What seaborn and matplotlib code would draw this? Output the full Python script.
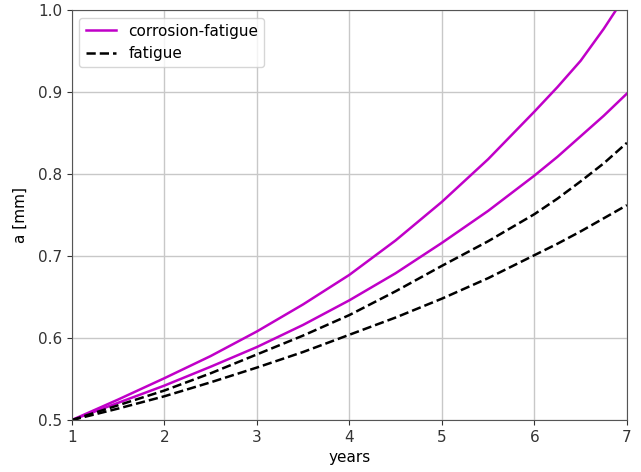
import matplotlib
matplotlib.use("Agg")
import matplotlib.pyplot as plt
import seaborn as sns
import numpy as np
import pandas as pd

years = [1.0, 1.5, 2.0, 2.5, 3.0, 3.5, 4.0, 4.5, 5.0, 5.5, 6.0, 6.25, 6.5, 6.75, 7.0]
cf_upper = [0.500, 0.525, 0.551, 0.578, 0.608, 0.641, 0.677, 0.719, 0.766, 0.818, 0.876, 0.906, 0.938, 0.977, 1.020]
cf_lower = [0.500, 0.521, 0.542, 0.565, 0.589, 0.616, 0.646, 0.679, 0.716, 0.755, 0.798, 0.821, 0.846, 0.871, 0.898]
f_upper = [0.500, 0.518, 0.536, 0.557, 0.580, 0.603, 0.628, 0.657, 0.688, 0.718, 0.751, 0.770, 0.791, 0.813, 0.838]
f_lower = [0.500, 0.514, 0.529, 0.546, 0.564, 0.583, 0.604, 0.625, 0.648, 0.673, 0.701, 0.715, 0.730, 0.746, 0.762]

x_ticks = [1, 2, 3, 4, 5, 6, 7]
y_ticks = [0.5, 0.6, 0.7, 0.8, 0.9, 1.0]

plt.rcParams["font.size"] = 11
fig, ax = plt.subplots(figsize=(6.41, 4.72), dpi=100)
fig.subplots_adjust(left=0.112, right=0.978, top=0.979, bottom=0.110)

series = [
    (cf_upper, "#c000c8", "-", "corrosion-fatigue"),
    (cf_lower, "#c000c8", "-", None),
    (f_upper, "black", "--", "fatigue"),
    (f_lower, "black", "--", None),
]
for vals, col, ls, lab in series:
    df = pd.DataFrame({"years": years, "a": vals})
    sns.lineplot(data=df, x="years", y="a", ax=ax, color=col, linestyle=ls,
                 label=lab, linewidth=1.8)

ax.set_xlim(1, 7)
ax.set_ylim(0.5, 1.0)
ax.set_xticks(x_ticks)
ax.set_yticks(y_ticks)
ax.set_xlabel("years", fontsize=11)
ax.set_ylabel("a [mm]", fontsize=11, labelpad=7)
ax.grid(True, color="#c8c8c8", linewidth=1)
for s in ax.spines.values():
    s.set_color("#555555")
ax.tick_params(colors="#333333", labelsize=11)
ax.legend(loc="upper left", fontsize=11)
fig.savefig("out.png", dpi=100)
